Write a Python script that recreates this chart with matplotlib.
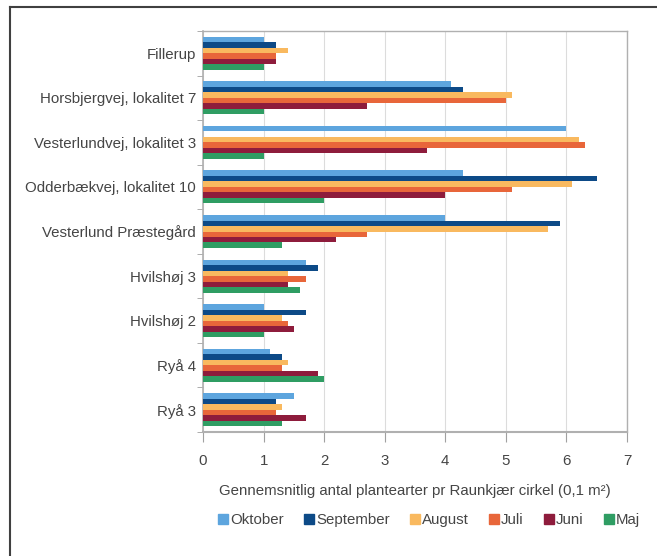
import matplotlib
matplotlib.use("Agg")
import matplotlib.pyplot as plt
import numpy as np
from matplotlib.lines import Line2D

categories = ["Fillerup", "Horsbjergvej, lokalitet 7", "Vesterlundvej, lokalitet 3",
              "Odderbækvej, lokalitet 10", "Vesterlund Præstegård", "Hvilshøj 3",
              "Hvilshøj 2", "Ryå 4", "Ryå 3"]
series_names = ["Oktober", "September", "August", "Juli", "Juni", "Maj"]
oktober   = [1.0, 4.1, 6.0, 4.3, 4.0, 1.7, 1.0, 1.1, 1.5]
september = [1.2, 4.3, 0.0, 6.5, 5.9, 1.9, 1.7, 1.3, 1.2]
august    = [1.4, 5.1, 6.2, 6.1, 5.7, 1.4, 1.3, 1.4, 1.3]
juli      = [1.2, 5.0, 6.3, 5.1, 2.7, 1.7, 1.4, 1.3, 1.2]
juni      = [1.2, 2.7, 3.7, 4.0, 2.2, 1.4, 1.5, 1.9, 1.7]
maj       = [1.0, 1.0, 1.0, 2.0, 1.3, 1.6, 1.0, 2.0, 1.3]
colors = ["#5da5de", "#0d4a87", "#f9b95f", "#e8663a", "#8e1c3c", "#2f9d63"]
xticks = [0, 1, 2, 3, 4, 5, 6, 7]

data = [oktober, september, august, juli, juni, maj]
txt = "#454545"
fs = 10.8
plt.rcParams['font.family'] = ['Liberation Sans', 'DejaVu Sans']

fig = plt.figure(figsize=(6.57, 5.56), dpi=100)
ax = fig.add_axes([203/657, 1-432/556, (627-203)/657, (432-31)/556])

n = len(series_names)
h = 0.74 / n
y = np.arange(len(categories))
for j, (vals, c, name) in enumerate(zip(data, colors, series_names)):
    ax.barh(y + (j - (n-1)/2) * h, vals, height=h, color=c, label=name, zorder=3)

ax.set_ylim(len(categories) - 0.5, -0.5)
ax.set_xlim(0, 7)
ax.set_xticks(xticks)
ax.set_xticklabels([str(t) for t in xticks], color=txt, fontsize=fs)
ax.set_yticks(y)
ax.set_yticklabels(categories, color=txt, fontsize=fs)
ax.set_yticks(np.arange(len(categories)+1) - 0.5, minor=True)
ax.tick_params(axis='y', which='major', length=0, pad=5)
ax.tick_params(axis='y', which='minor', length=4, color="#a0a0a0", direction='out')
ax.tick_params(axis='x', which='major', length=7, color="#a0a0a0", pad=9)
ax.grid(axis='x', color="#dcdcdc", linewidth=0.8, zorder=0)
for s in ax.spines.values():
    s.set_color("#b0b0b0")
    s.set_linewidth(1.0)
ax.spines['bottom'].set_linewidth(1.5)
ax.spines['left'].set_linewidth(1.2)

ax.set_xlabel("Gennemsnitlig antal plantearter pr Raunkjær cirkel (0,1 m²)",
              color=txt, fontsize=fs, labelpad=11)

handles = [plt.Rectangle((0, 0), 1, 1, color=c) for c in colors]
fig.legend(handles, series_names, loc='center', bbox_to_anchor=(429/657, 1-520/556),
           ncol=6, frameon=False, fontsize=fs, handlelength=0.65, handleheight=0.65,
           handletextpad=0.15, columnspacing=1.35, labelcolor=txt)

fig.add_artist(Line2D([10/657, 1.0], [1-7/556, 1-7/556], color="#404040", linewidth=1.5,
                      transform=fig.transFigure))
fig.add_artist(Line2D([10/657, 10/657], [0.0, 1-7/556], color="#404040", linewidth=1.5,
                      transform=fig.transFigure))

fig.savefig("out.png", dpi=100, facecolor="white")
